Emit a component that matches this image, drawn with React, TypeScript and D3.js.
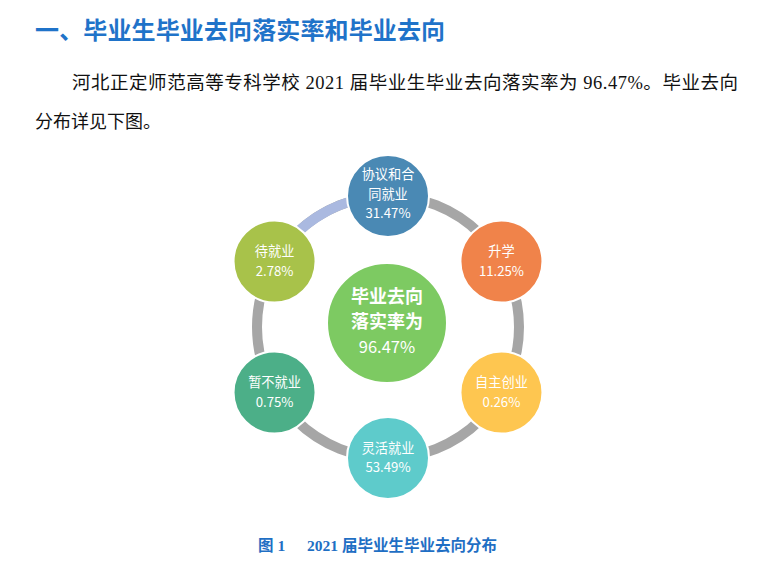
import React from "react";
import * as d3 from "d3";

const categories = ["协议和合同就业", "升学", "自主创业", "灵活就业", "暂不就业", "待就业"];
const labelLines = [["协议和合", "同就业"], ["升学"], ["自主创业"], ["灵活就业"], ["暂不就业"], ["待就业"]];
const values = [31.47, 11.25, 0.26, 53.49, 0.75, 2.78];
const colors = ["#4a89b4", "#f0834a", "#fec650", "#5ecbcb", "#4caf88", "#a8c24a"];
const centerLines = ["毕业去向", "落实率为"];
const centerValue = 96.47;
const titleText = "一、毕业生毕业去向落实率和毕业去向";
const paraLine1 = "河北正定师范高等专科学校 2021 届毕业生毕业去向落实率为 96.47%。毕业去向";
const paraLine2 = "分布详见下图。";
const captionParts = ["图 1", "2021 届毕业生毕业去向分布"];

const W = 769;
const H = 567;
const cx = 388;
const cy = 327;
const R = 131;
const rNode = 41;
const rCenter = 60;

const sans = "'Microsoft YaHei', 'Noto Sans CJK SC', 'Noto Sans', sans-serif";
const serif = "'Liberation Serif', 'Times New Roman', 'Noto Sans CJK SC', serif";

export default function App() {
  const angle = d3.scaleLinear().domain([0, categories.length]).range([0, 2 * Math.PI]);
  const fmt = (v: number) => d3.format(".2f")(v) + "%";
  const highlight = d3.arc()({
    innerRadius: R - 5,
    outerRadius: R + 5,
    startAngle: angle(5) - 2 * Math.PI,
    endAngle: angle(0),
  } as any) as string;

  return (
    <svg width={W} height={H} style={{ position: "absolute", left: 0, top: 0, background: "#fff" }}>
      <text x={35} y={39} fontFamily={sans} fontWeight="bold" fontSize={24} fill="#1f73c9" textLength={410} lengthAdjust="spacing">
        {titleText}
      </text>
      <text x={72} y={89} fontFamily={serif} fontSize={18.5} fill="#111" textLength={666} lengthAdjust="spacing">
        {paraLine1}
      </text>
      <text x={35} y={128} fontFamily={serif} fontSize={18} fill="#111">
        {paraLine2}
      </text>

      <g transform={`translate(${cx},${cy})`}>
        <circle r={R} fill="none" stroke="#a6a6a6" strokeWidth={10} />
        <path d={highlight} fill="#aab9e0" />
        <circle cx={-1} cy={-4} r={rCenter} fill="#7dca62" stroke="#fff" strokeWidth={2} />
        {centerLines.map((l, i) => (
          <text key={i} x={-1} y={-30 + i * 25} dy="0.35em" textAnchor="middle" fill="#fff"
            fontFamily={serif} fontWeight="bold" fontSize={18}>{l}</text>
        ))}
        <text x={-1} y={20} dy="0.35em" textAnchor="middle" fill="#fff" fontFamily={sans} fontSize={16.5}>
          {fmt(centerValue)}
        </text>
        {categories.map((c, i) => {
          const [x, y] = d3.pointRadial(angle(i), R);
          const lines = [...labelLines[i], fmt(values[i])];
          const lh = 19.5;
          const y0 = -((lines.length - 1) * lh) / 2;
          return (
            <g key={c} transform={`translate(${x},${y})`}>
              <circle r={rNode} fill={colors[i]} stroke="#fff" strokeWidth={2} />
              {lines.map((l, j) => (
                <text key={j} x={0} y={y0 + j * lh - (lines.length === 3 ? 2 : 0)} dy="0.35em"
                  textAnchor="middle" fill="#fff" fontFamily={sans} fontSize={13.2}>
                  {l}
                </text>
              ))}
            </g>
          );
        })}
      </g>

      <text y={551} fontFamily={serif} fontWeight="bold" fontSize={15.5} fill="#1f6fc4">
        <tspan x={258}>{captionParts[0]}</tspan>
        <tspan x={307}>{captionParts[1]}</tspan>
      </text>
    </svg>
  );
}
